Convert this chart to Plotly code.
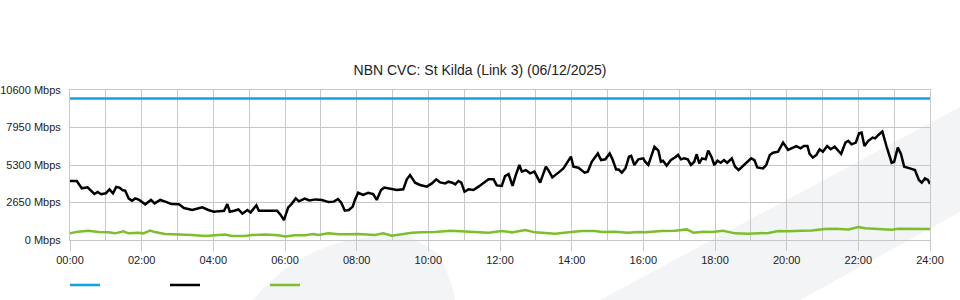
import plotly.graph_objects as go

# ---------------- data ----------------
title_text = "NBN CVC: St Kilda (Link 3) (06/12/2025)"

x_tick_vals = [0, 2, 4, 6, 8, 10, 12, 14, 16, 18, 20, 22, 24]
x_tick_text = ["00:00", "02:00", "04:00", "06:00", "08:00", "10:00", "12:00",
               "14:00", "16:00", "18:00", "20:00", "22:00", "24:00"]
y_tick_vals = [0, 2650, 5300, 7950, 10600]
y_tick_text = ["0 Mbps", "2650 Mbps", "5300 Mbps", "7950 Mbps", "10600 Mbps"]

capacity_t = [0, 24]
capacity_v = [10000, 10000]

traffic_t = [0, 0.19, 0.33, 0.49, 0.68, 0.77, 0.87, 1.0, 1.1, 1.2, 1.29, 1.38, 1.47, 1.54,
             1.64, 1.73, 1.82, 1.93, 2.1, 2.26, 2.36, 2.52, 2.66, 2.83, 3.04, 3.18, 3.41,
             3.55, 3.69, 3.86, 4.02, 4.16, 4.3, 4.39, 4.46, 4.58, 4.7, 4.81, 4.95, 5.04,
             5.2, 5.27, 5.46, 5.64, 5.78, 5.88, 5.97, 6.09, 6.18, 6.3, 6.39, 6.55, 6.68,
             6.85, 7.03, 7.22, 7.36, 7.48, 7.57, 7.67, 7.78, 7.89, 7.95, 8.04, 8.18, 8.32,
             8.46, 8.56, 8.68, 8.77, 8.93, 9.12, 9.3, 9.4, 9.49, 9.63, 9.77, 9.96, 10.1,
             10.22, 10.33, 10.47, 10.56, 10.67, 10.75, 10.84, 10.92, 11.01, 11.12, 11.26,
             11.4, 11.54, 11.68, 11.82, 11.91, 12.05, 12.14, 12.24, 12.35, 12.44, 12.54,
             12.61, 12.72, 12.84, 12.96, 13.12, 13.28, 13.35, 13.46, 13.63, 13.77, 13.98,
             14.05, 14.19, 14.36, 14.45, 14.56, 14.73, 14.82, 14.94, 15.06, 15.14, 15.24,
             15.31, 15.4, 15.5, 15.6, 15.66, 15.75, 15.86, 16.0, 16.05, 16.14, 16.31,
             16.42, 16.49, 16.55, 16.65, 16.77, 16.88, 16.97, 17.05, 17.14, 17.24, 17.33,
             17.42, 17.49, 17.56, 17.64, 17.74, 17.81, 17.9, 17.98, 18.07, 18.16, 18.25,
             18.34, 18.47, 18.56, 18.66, 18.82, 19.01, 19.1, 19.18, 19.34, 19.43, 19.53,
             19.62, 19.76, 19.9, 20.04, 20.15, 20.27, 20.39, 20.48, 20.58, 20.64, 20.73,
             20.83, 20.92, 21.01, 21.13, 21.23, 21.34, 21.45, 21.52, 21.64, 21.72, 21.81,
             21.93, 22.02, 22.09, 22.17, 22.28, 22.4, 22.47, 22.56, 22.67, 22.79, 22.93,
             23.0, 23.1, 23.19, 23.28, 23.44, 23.58, 23.69, 23.77, 23.86, 23.94, 24.0]
traffic_v = [4170, 4170, 3650, 3720, 3250, 3400, 3230, 3300, 3580, 3300, 3745, 3700, 3510, 3490,
             2920, 2780, 2940, 2830, 2520, 2830, 2590, 2830, 2710, 2540, 2520, 2260, 2120,
             2240, 2310, 2120, 2000, 2040, 2070, 2540, 2000, 2070, 2160, 1860, 2120, 1950,
             2450, 2070, 2070, 2070, 2070, 1770, 1410, 2310, 2540, 2940, 2730, 2920, 2800,
             2870, 2830, 2680, 2710, 2890, 2640, 2070, 2120, 2360, 2830, 3340, 3180, 3340,
             3250, 2830, 3530, 3700, 3600, 3530, 3580, 4290, 4590, 4050, 3890, 3770, 4000,
             4290, 4070, 4000, 4120, 4050, 3930, 4170, 4050, 3410, 3580, 3530,
             3770, 4050, 4290, 4290, 3860, 3820, 4520, 4660, 3820, 4590, 5300,
             4830, 4940, 4710, 4830, 4050, 5180, 4940, 4420, 4760, 5060, 5890,
             5180, 5110, 4760, 4830, 5530, 6120, 5650, 5700, 6120, 5700, 4990,
             4990, 4760, 5060, 5890, 5940, 5300, 5700, 5770, 5530, 5300, 6590,
             6310, 5530, 5600, 5250, 5650, 5830, 6010, 5700, 5770, 5700, 5300,
             5530, 6060, 5410, 5770, 5700, 6310, 5890, 5300, 5600, 5460, 5650,
             5460, 5770, 5180, 4950, 5300, 5770, 5650, 5130, 5060, 5300, 6010,
             6170, 6240, 6880, 6360, 6480, 6640, 6480, 6640, 6640, 6080, 5830,
             6010, 6410, 6240, 6640, 6410, 6590, 6310, 6080, 6880, 7010, 6760,
             6880, 7540, 7590, 6640, 7010, 7240, 7180, 7420, 7660, 6590, 5460,
             5530, 6530, 6080, 5180, 5060, 4950, 4240, 4050, 4350, 4240, 3960]

upload_t = [0.0, 0.23, 0.51, 0.79, 1.07, 1.26, 1.49, 1.63, 1.91, 2.05, 2.23, 2.37, 2.65, 2.93,
            3.07, 3.4, 3.77, 4.05, 4.33, 4.51, 4.88, 5.07, 5.44, 5.81, 6.0, 6.28, 6.56, 6.79,
            6.93, 7.21, 7.49, 7.77, 8.05, 8.51, 8.74, 8.98, 9.26, 9.54, 9.81, 10.19, 10.61,
            10.93, 11.3, 11.68, 12.05, 12.33, 12.7, 12.98, 13.35, 13.54, 13.91, 14.28, 14.65,
            14.84, 15.21, 15.58, 15.86, 16.05, 16.51, 16.88, 17.21, 17.4, 17.68, 17.91, 18.23,
            18.56, 18.93, 19.26, 19.49, 19.77, 20.05, 20.42, 20.7, 21.07, 21.35, 21.72, 22.0,
            22.19, 22.56, 22.74, 22.93, 23.12, 23.49, 23.86, 24.0]
upload_v = [470, 590, 660, 560, 540, 470, 610, 470, 520, 470, 660, 560, 420, 420,
            380, 350, 280, 330, 380, 280, 280, 350, 380, 330, 240, 330, 330, 420,
            350, 470, 400, 400, 420, 350, 470, 300, 400, 520, 540, 560, 660,
            590, 560, 520, 640, 540, 710, 540, 470, 450, 540, 640, 640,
            560, 590, 520, 560, 540, 640, 660, 750, 520, 590, 560, 660,
            470, 450, 450, 500, 640, 610, 660, 680, 780, 800, 750, 920,
            830, 780, 780, 730, 800, 800, 800, 780]

# ---------------- figure ----------------
FONT = "Liberation Sans, Arial, sans-serif"
GRID = "#c8c8c8"

fig = go.Figure()
fig.add_trace(go.Scatter(x=capacity_t, y=capacity_v, mode="lines", name=" ",
                         line=dict(color="#13a1e3", width=2.5)))
fig.add_trace(go.Scatter(x=traffic_t, y=traffic_v, mode="lines", name=" ",
                         line=dict(color="#000000", width=2.5)))
fig.add_trace(go.Scatter(x=upload_t, y=upload_v, mode="lines", name=" ",
                         line=dict(color="#7dbf2a", width=2.5)))

# faint background watermark (paper coords)
L, R, T, B = 70, 30, 90, 60
PW, PH = 960 - L - R, 300 - T - B


def px(x, y):
    return (x - L) / PW, (300 - B - y) / PH


def path(points, cmds):
    out = ""
    for c, pts in zip(cmds, points):
        out += c + " " + " ".join("%.4f,%.4f" % px(*p) for p in pts) + " "
    return out + "Z"


swoosh = path([[(253, 300)], [(290, 255), (345, 241)], [(380, 233), (410, 236)],
               [(440, 255)], [(452, 285)], [(455, 300)]],
              ["M", "Q", "Q", "L", "L", "L"])
band = path([[(600, 300)], [(960, 107)], [(960, 212)], [(800, 300)]],
            ["M", "L", "L", "L"])
for p in (swoosh, band):
    fig.add_shape(type="path", path=p, xref="paper", yref="paper",
                  fillcolor="#f3f4f6", line=dict(width=0), layer="below")

fig.update_layout(
    width=960, height=300, autosize=False,
    margin=dict(l=L, r=R, t=T, b=B, pad=0, autoexpand=False),
    paper_bgcolor="white", plot_bgcolor="rgba(0,0,0,0)",
    font=dict(family=FONT, size=11, color="#222"),
    title=dict(text=title_text, x=0.5, xref="container", xanchor="center",
               y=1 - 70 / 300, yref="container", yanchor="middle",
               font=dict(family=FONT, size=14, color="#222")),
    showlegend=True,
    legend=dict(orientation="h", x=-5 / PW, xanchor="left", y=-45 / PH, yanchor="middle",
                entrywidth=55, entrywidthmode="pixels", itemclick=False,
                font=dict(size=11), bgcolor="rgba(0,0,0,0)", tracegroupgap=0),
)
fig.update_xaxes(range=[0, 24], tickmode="array", tickvals=x_tick_vals, ticktext=x_tick_text,
                 ticks="outside", ticklen=10, tickcolor=GRID, tickwidth=1, automargin=False,
                 showgrid=True, gridcolor=GRID, gridwidth=1,
                 minor=dict(tickmode="linear", tick0=0, dtick=1, showgrid=True,
                            gridcolor=GRID, gridwidth=1, ticks=""),
                 showline=True, linecolor=GRID, mirror=True, zeroline=False,
                 tickfont=dict(family=FONT, size=11, color="#222"))
fig.update_yaxes(range=[0, 10600], tickmode="array", tickvals=y_tick_vals, ticktext=y_tick_text,
                 ticks="outside", ticklen=6, tickcolor="rgba(0,0,0,0)", automargin=False,
                 showgrid=True, gridcolor=GRID, gridwidth=1,
                 showline=True, linecolor=GRID, mirror=True, zeroline=False,
                 tickfont=dict(family=FONT, size=11, color="#222"))

fig.write_html("out.html")
